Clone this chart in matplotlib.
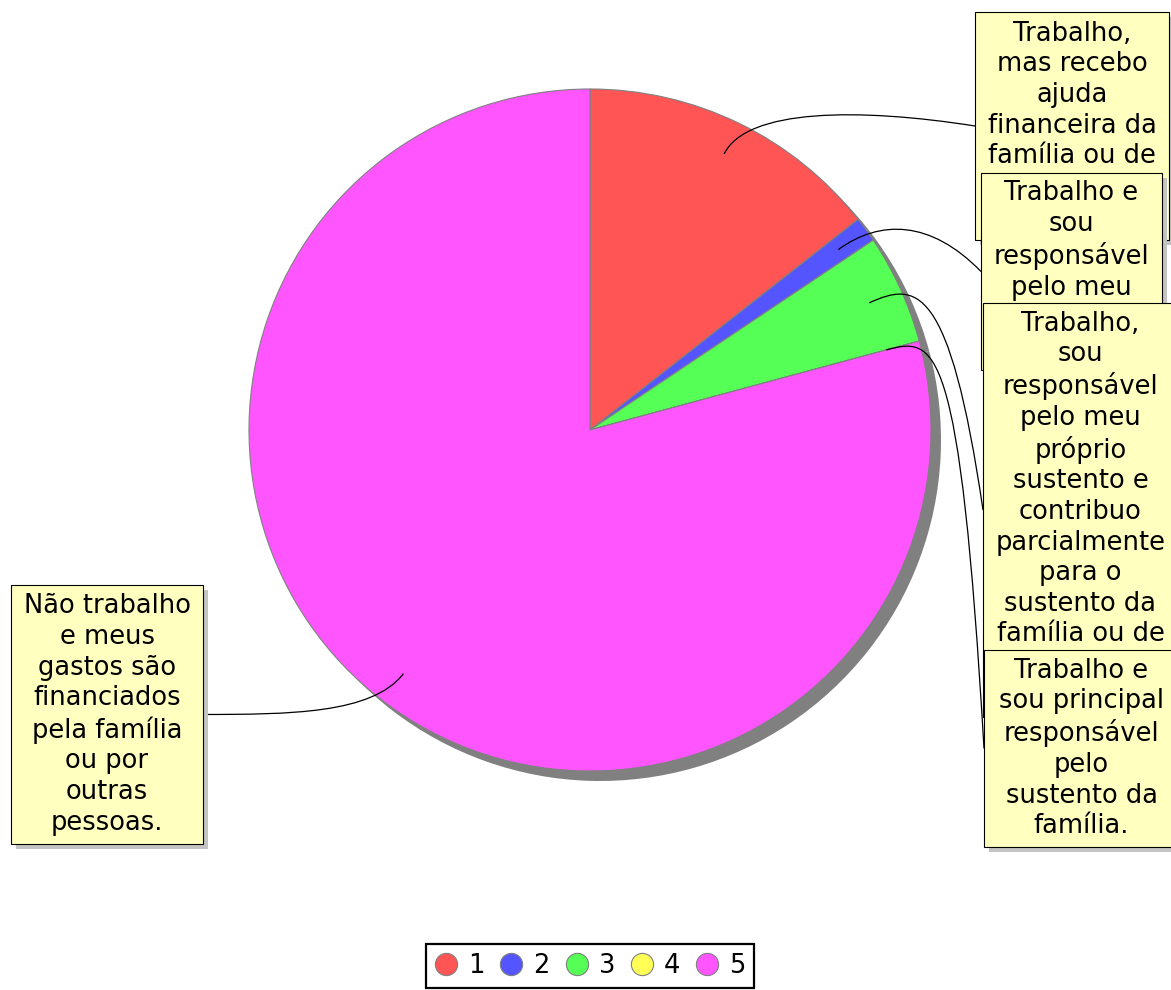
import numpy as np
import matplotlib
matplotlib.use('Agg')
import matplotlib.pyplot as plt
from matplotlib.patches import Rectangle, PathPatch
from matplotlib.path import Path
from matplotlib.lines import Line2D

# data
series_names = ['1', '2', '3', '4', '5']
counts = [36, 3, 13, 0, 198]
colors = ['#FF5555', '#5555FF', '#55FF55', '#FFFF55', '#FF55FF']
labels = [
    'Trabalho,\nmas recebo\najuda\nfinanceira da\nfamília ou de\noutras\npessoas.',
    'Trabalho e\nsou\nresponsável\npelo meu\npróprio\nsustento.',
    'Trabalho,\nsou\nresponsável\npelo meu\npróprio\nsustento e\ncontribuo\nparcialmente\npara o\nsustento da\nfamília ou de\noutras\npessoas.',
    'Trabalho e\nsou principal\nresponsável\npelo\nsustento da\nfamília.',
    'Não trabalho\ne meus\ngastos são\nfinanciados\npela família\nou por\noutras\npessoas.',
]

# layout (pixels, y measured from top)
W, H = 1171, 990
cx, cy, r = 590, H - 430, 341
box_pos = [(975, 12, 194), (981, 173, 181), (983, 303, 195), (984, 650, 195), (11, 585, 192)]
next_top = [173, 303, 650, None, None]  # box drawn over the lower part
line_h = 31
pad = 5.5

fig = plt.figure(figsize=(W / 100, H / 100), dpi=100)
ax = fig.add_axes([0, 0, 1, 1])

# shadow
ax.pie(counts, colors=['#808080'] * 5, startangle=90, counterclock=False,
       center=(cx + 10, cy - 10), radius=r, wedgeprops=dict(linewidth=0))
wedges, _ = ax.pie(counts, colors=colors, startangle=90, counterclock=False,
                   center=(cx, cy), radius=r,
                   wedgeprops=dict(edgecolor='#808080', linewidth=0.8))
ax.set_xlim(0, W)
ax.set_ylim(0, H)
ax.set_axis_off()

for i, (w, lab) in enumerate(zip(wedges, labels)):
    left, top, bw = box_pos[i]
    lines = lab.split('\n')
    n = len(lines)
    bh = n * line_h + 2 * pad
    y0 = H - top - bh
    z = 5 + i * 3
    # link curve
    mid = np.radians((w.theta1 + w.theta2) / 2)
    link = (cx + 0.9 * r * np.cos(mid), cy + 0.9 * r * np.sin(mid))
    elbow = (cx + 1.05 * r * np.cos(mid), cy + 1.05 * r * np.sin(mid))
    tx = left if left > cx else left + bw
    ty = y0 + bh / 2
    ctrl = (elbow[0] + 0.5 * (tx - elbow[0]), elbow[1])
    p = Path([link, elbow, ctrl, (tx, ty)],
             [Path.MOVETO, Path.CURVE4, Path.CURVE4, Path.CURVE4])
    ax.add_patch(PathPatch(p, fill=False, edgecolor='black', linewidth=0.9, zorder=4))
    # box
    ax.add_patch(Rectangle((left + 5, y0 - 5), bw, bh, facecolor='#C4C4C4',
                           edgecolor='none', zorder=z))
    ax.add_patch(Rectangle((left, y0), bw, bh, facecolor='#FFFFC0',
                           edgecolor='black', linewidth=0.8, zorder=z + 1))
    # only the lines not covered by the next box
    if next_top[i] is not None:
        nvis = int((next_top[i] - top - pad + 1) // line_h)
        lines = lines[:nvis]
    nv = len(lines)
    ax.text(left + bw / 2, H - (top + pad + nv * line_h / 2), '\n'.join(lines),
            ha='center', va='center', multialignment='center',
            fontsize=18.5, linespacing=1.23, color='black', zorder=z + 2)

handles = [Line2D([], [], marker='o', ls='', markersize=16, markerfacecolor=c,
                  markeredgecolor='#808080', markeredgewidth=0.8) for c in colors]
leg = fig.legend(handles, series_names, loc='upper center', ncol=5,
                 bbox_to_anchor=(590 / W, 1 - 944 / H), frameon=True, fancybox=False,
                 edgecolor='black', framealpha=1, fontsize=18.5, handlelength=0.9,
                 handletextpad=0.4, columnspacing=0.6, borderpad=0.35, borderaxespad=0)
leg.get_frame().set_linewidth(1.6)

fig.savefig('out.png', dpi=100)
